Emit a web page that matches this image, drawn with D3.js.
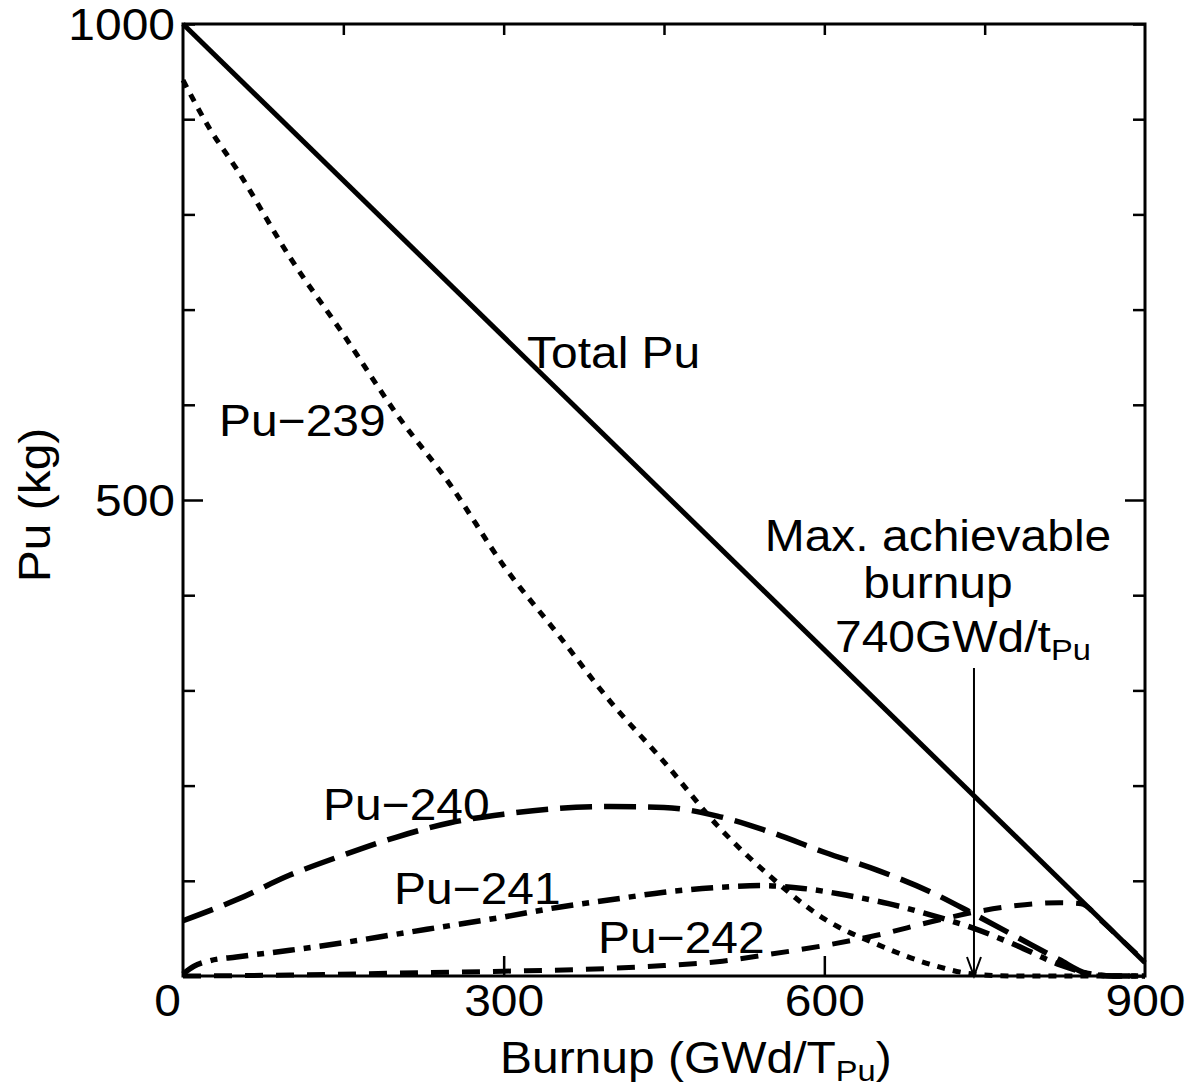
<!DOCTYPE html>
<html>
<head>
<meta charset="utf-8">
<script src="https://cdn.jsdelivr.net/npm/d3@7"></script>
<style>
  html, body { margin: 0; padding: 0; background: #fff; }
  svg text { font-family: "Liberation Sans", Arial, Helvetica, sans-serif; fill: #000; }
</style>
</head>
<body>
<svg id="chart" width="1197" height="1092"></svg>
<script>
// ---- Data (burnup GWd/tPu, Pu mass kg) ----
const totalBurnup = [0, 900];
const totalPu = [1000, 14];

const pu239Burnup = [0, 25, 50, 100, 150, 200, 250, 300, 350, 400, 450, 500, 550, 600, 650, 700, 740, 780, 900];
const pu239 = [941, 890, 848, 755, 674, 590, 516, 431, 360, 288, 225, 158, 104, 60, 33, 12, 2, 0, 0];

const pu240Burnup = [0, 50, 100, 150, 200, 250, 300, 350, 400, 450, 500, 550, 600, 650, 700, 740, 780, 820, 845, 870, 900];
const pu240 = [58, 80, 106, 127, 146, 161, 170, 176, 178, 177, 168, 151, 130, 111, 88, 65, 41, 17, 3, 0, 0];

const pu241Burnup = [0, 10, 25, 50, 100, 150, 200, 250, 300, 350, 400, 450, 500, 540, 580, 620, 660, 700, 740, 780, 820, 850, 870, 900];
const pu241 = [2, 10, 16, 20, 27, 35, 44, 53, 62, 72, 80, 88, 93, 95, 92, 85, 76, 64, 50, 32, 12, 2, 0, 0];

const pu242Burnup = [0, 100, 200, 300, 400, 450, 500, 550, 600, 650, 700, 740, 780, 820, 840, 860, 880, 900];
const pu242 = [0, 1, 3, 5, 8, 11, 15, 23, 32, 43, 57, 67, 74, 77, 76, 57, 36, 15];

const yTicks = [0, 100, 200, 300, 400, 500, 600, 700, 800, 900, 1000];
const yTickLabels = [500, 1000];
const xBottomTicks = [0, 300, 600, 900];
const xTopTicks = [150, 300, 450, 600, 750];
const maxBurnup = 740;

// ---- Layout ----
const svg = d3.select("#chart");
const padL = 183, padR = 1145, padT = 24, padB = 976;
const FS = 44;
const SX = 1.09; // horizontal glyph stretch seen in the reference lettering

const x = d3.scaleLinear().domain([0, 900]).range([padL, padR]);
const y = d3.scaleLinear().domain([0, 1000]).range([padB, padT]);

// axes
const gl = svg.append("g").attr("transform", `translate(${padL},0)`)
  .call(d3.axisLeft(y).tickValues(yTicks).tickSize(-12).tickPadding(8)
    .tickFormat(d => yTickLabels.includes(d) ? d : ""));
gl.selectAll(".tick line").attr("x2", d => d === 500 ? 20 : 12);

const gr = svg.append("g").attr("transform", `translate(${padR},0)`)
  .call(d3.axisRight(y).tickValues(yTicks).tickSize(-12).tickFormat(""));
gr.selectAll(".tick line").attr("x2", d => d === 500 ? -20 : -12);

const gt = svg.append("g").attr("transform", `translate(0,${padT})`)
  .call(d3.axisTop(x).tickValues(xTopTicks).tickSize(-11).tickFormat(""));

const gb = svg.append("g").attr("transform", `translate(0,${padB})`)
  .call(d3.axisBottom(x).tickValues(xBottomTicks).tickSize(-20).tickPadding(12).tickFormat(d => d));
gb.selectAll(".tick line").attr("y2", d => (d === 0 || d === 900) ? 0 : -20);

[gl, gr, gt, gb].forEach(g => {
  g.select(".domain").remove();
  g.selectAll(".tick line").attr("stroke", "#000").attr("stroke-width", 2.5);
  g.selectAll(".tick text").attr("font-size", FS).attr("font-family", "Liberation Sans, Arial, sans-serif").attr("fill", "#000");
});
gl.selectAll(".tick text").attr("x", 0).attr("dy", "0.36em")
  .attr("transform", `translate(-8,0) scale(${SX},1)`);
gb.selectAll(".tick text").attr("y", 0).attr("dy", 0)
  .attr("transform", d => `translate(${d === 0 ? -16 : 0},40) scale(${SX},1)`);

// frame
svg.append("rect").attr("x", padL).attr("y", padT).attr("width", padR - padL).attr("height", padB - padT)
  .attr("fill", "none").attr("stroke", "#000").attr("stroke-width", 3);

// lines
const line = d3.line().x(d => x(d[0])).y(d => y(d[1])).curve(d3.curveMonotoneX);
function series(xs, ys) { return xs.map((v, i) => [v, ys[i]]); }

svg.append("path").datum(series(totalBurnup, totalPu)).attr("d", line)
  .attr("fill", "none").attr("stroke", "#000").attr("stroke-width", 5);
svg.append("path").datum(series(pu239Burnup, pu239)).attr("d", line)
  .attr("fill", "none").attr("stroke", "#000").attr("stroke-width", 5).attr("stroke-dasharray", "8,8");
svg.append("path").datum(series(pu240Burnup, pu240)).attr("d", line)
  .attr("fill", "none").attr("stroke", "#000").attr("stroke-width", 5.5).attr("stroke-dasharray", "32,12");
svg.append("path").datum(series(pu241Burnup, pu241)).attr("d", line)
  .attr("fill", "none").attr("stroke", "#000").attr("stroke-width", 5.5).attr("stroke-dasharray", "22,9,7,9");
svg.append("path").datum(series(pu242Burnup, pu242)).attr("d", line)
  .attr("fill", "none").attr("stroke", "#000").attr("stroke-width", 5).attr("stroke-dasharray", "18,13");

// arrow for max achievable burnup
const ax = x(maxBurnup);
svg.append("line").attr("x1", ax).attr("x2", ax).attr("y1", 668).attr("y2", padB)
  .attr("stroke", "#000").attr("stroke-width", 2);
svg.append("path").attr("d", `M${ax - 7},${padB - 19} L${ax},${padB} L${ax + 7},${padB - 19}`)
  .attr("fill", "none").attr("stroke", "#000").attr("stroke-width", 2);

// labels
function label(txt, px, py, anchor) {
  const g = svg.append("g").attr("transform", `translate(${px},${py}) scale(${SX},1)`);
  return g.append("text").attr("x", 0).attr("y", 0).attr("font-size", FS)
    .attr("text-anchor", anchor || "start").text(txt);
}
label("Total Pu", 527, 368);
label("Pu\u2212239", 219, 436);
label("Pu\u2212240", 323, 820);
label("Pu\u2212241", 394, 904);
label("Pu\u2212242", 598, 953);
label("Max. achievable", 938, 551, "middle");
label("burnup", 938, 598, "middle");
const t740 = label("740GWd/t", 835, 652);
t740.append("tspan").attr("font-size", FS * 0.68).attr("dy", 8).text("Pu");

// axis titles
const xt = label("Burnup (GWd/T", 500, 1073);
xt.append("tspan").attr("font-size", FS * 0.68).attr("dy", 8).text("Pu");
xt.append("tspan").attr("dy", -8).text(")");

svg.append("text").attr("transform", `translate(50,505) rotate(-90) scale(${SX},1)`)
  .attr("text-anchor", "middle").attr("font-size", FS).text("Pu (kg)");
</script>
</body>
</html>
